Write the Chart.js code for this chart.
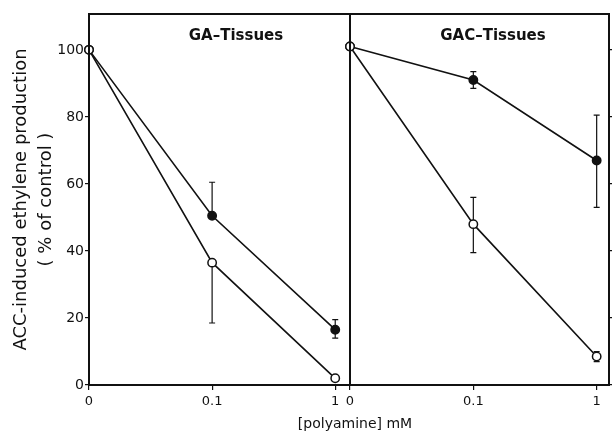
<!DOCTYPE html>
<html>
<head>
<meta charset="utf-8">
<script src="https://cdn.jsdelivr.net/npm/chart.js@4.4.1/dist/chart.umd.min.js"></script>
<style>
  html, body { margin: 0; padding: 0; background: #fff; }
  .stage { position: relative; width: 612px; height: 439px; overflow: hidden; font-family: "DejaVu Sans", "Liberation Sans", Arial, sans-serif; }
  canvas { position: absolute; top: 0; }
  #leftPanel { left: 0; }
  #rightPanel { left: 340px; }
  .x-title { position: absolute; left: 250px; width: 210px; top: 415px; text-align: center; font-size: 14px; color: #111; }
</style>
</head>
<body>
<div class="stage">
  <canvas id="leftPanel" width="351" height="439"></canvas>
  <canvas id="rightPanel" width="272" height="439"></canvas>
  <div class="x-title">[polyamine] mM</div>
</div>
<script>
  // dose categories, equally spaced on the x axis
  const doseLabels = ["0", "0.1", "1"];
  const doseSteps = [0, 1, 2];

  // GA tissues
  const gaOpen = [100, 36.5, 2];
  const gaOpenUp = [0, 0, 0];
  const gaOpenDown = [0, 18, 0];
  const gaFilled = [100, 50.5, 16.5];
  const gaFilledUp = [0, 10, 3];
  const gaFilledDown = [0, 0, 2.5];

  // GAC tissues
  const gacOpen = [101, 48, 8.5];
  const gacOpenUp = [0, 8, 1.5];
  const gacOpenDown = [0, 8.5, 1.5];
  const gacFilled = [101, 91, 67];
  const gacFilledUp = [0, 2.5, 13.5];
  const gacFilledDown = [0, 2.5, 14];

  const yTicks = [0, 20, 40, 60, 80, 100];
  const font = "'DejaVu Sans', 'Liberation Sans', Arial, sans-serif";

  const toPoints = (values) => values.map((v, i) => ({ x: doseSteps[i], y: v }));

  const makeDataset = (values, up, down, filled) => ({
    data: toPoints(values),
    errUp: up,
    errDown: down,
    borderColor: "#111",
    borderWidth: 1.6,
    pointRadius: 4.2,
    pointBorderWidth: 1.5,
    pointBorderColor: "#111",
    pointBackgroundColor: filled ? "#111" : "#fff",
    tension: 0,
    clip: false,
  });

  const errorBars = {
    id: "errorBars",
    beforeDatasetsDraw(chart) {
      const ctx = chart.ctx;
      const yScale = chart.scales.y;
      ctx.save();
      ctx.strokeStyle = "#111";
      ctx.lineWidth = 1.2;
      chart.data.datasets.forEach((ds, di) => {
        const meta = chart.getDatasetMeta(di);
        ds.data.forEach((pt, i) => {
          const x = meta.data[i].x;
          const top = yScale.getPixelForValue(pt.y + (ds.errUp[i] || 0));
          const bottom = yScale.getPixelForValue(pt.y - (ds.errDown[i] || 0));
          if (top === bottom) return;
          ctx.beginPath();
          ctx.moveTo(x, top);
          ctx.lineTo(x, bottom);
          if (ds.errUp[i]) { ctx.moveTo(x - 3, top); ctx.lineTo(x + 3, top); }
          if (ds.errDown[i]) { ctx.moveTo(x - 3, bottom); ctx.lineTo(x + 3, bottom); }
          ctx.stroke();
        });
      });
      ctx.restore();
    },
  };

  const frameAndTitle = {
    id: "frameAndTitle",
    afterDraw(chart, args, opts) {
      const { ctx, chartArea } = chart;
      ctx.save();
      ctx.strokeStyle = "#111";
      ctx.lineWidth = 2;
      ctx.strokeRect(chartArea.left, chartArea.top, chartArea.right - chartArea.left, chartArea.bottom - chartArea.top);
      ctx.fillStyle = "#111";
      ctx.font = "bold 15px " + font;
      ctx.textAlign = "center";
      ctx.textBaseline = "middle";
      ctx.fillText(opts.text, opts.x, chartArea.top + 22);
      ctx.restore();
    },
  };

  const xScale = (max) => ({
    type: "linear",
    min: 0,
    max: max,
    afterBuildTicks(scale) {
      scale.ticks = doseSteps.map((v) => ({ value: v }));
    },
    afterFit(scale) {
      scale.height = 54;
      scale.paddingLeft = 0;
      scale.paddingRight = 0;
    },
    ticks: {
      callback: (value) => doseLabels[value],
      color: "#111",
      font: { family: font, size: 13 },
      padding: 4,
      maxRotation: 0,
    },
    grid: { drawOnChartArea: false, drawTicks: true, tickLength: 5, color: "#111", lineWidth: 1.2 },
    border: { display: true, color: "#111", width: 2 },
  });

  const yScaleBase = {
    type: "linear",
    min: 0,
    max: 110.7,
    afterBuildTicks(scale) {
      scale.ticks = yTicks.map((v) => ({ value: v }));
    },
    grid: { drawOnChartArea: false, drawTicks: true, tickLength: 4, color: "#111", lineWidth: 1.2 },
    border: { display: true, color: "#111", width: 2 },
  };

  const baseOptions = {
    responsive: false,
    animation: false,
    events: [],
    plugins: { legend: { display: false }, tooltip: { enabled: false } },
  };

  new Chart(document.getElementById("leftPanel"), {
    type: "line",
    data: {
      datasets: [
        makeDataset(gaOpen, gaOpenUp, gaOpenDown, false),
        makeDataset(gaFilled, gaFilledUp, gaFilledDown, true),
      ],
    },
    options: {
      ...baseOptions,
      layout: { autoPadding: false, padding: { top: 14, right: 1, bottom: 0, left: 0 } },
      plugins: { ...baseOptions.plugins, frameAndTitle: { text: "GA\u2013Tissues", x: 236 } },
      scales: {
        x: xScale(2.12),
        y: {
          ...yScaleBase,
          position: "left",
          afterFit(scale) {
            scale.width = 89;
          },
          ticks: { color: "#111", font: { family: font, size: 14 }, padding: 1 },
          title: {
            display: true,
            text: ["ACC-induced ethylene production", "( % of control )"],
            color: "#111",
            font: { family: font, size: 18, lineHeight: 1.4 },
            padding: { top: 9, bottom: 0 },
          },
        },
      },
    },
    plugins: [errorBars, frameAndTitle],
  });

  new Chart(document.getElementById("rightPanel"), {
    type: "line",
    data: {
      datasets: [
        makeDataset(gacOpen, gacOpenUp, gacOpenDown, false),
        makeDataset(gacFilled, gacFilledUp, gacFilledDown, true),
      ],
    },
    options: {
      ...baseOptions,
      layout: { autoPadding: false, padding: { top: 14, right: 0, bottom: 0, left: 10 } },
      plugins: { ...baseOptions.plugins, frameAndTitle: { text: "GAC\u2013Tissues", x: 153 } },
      scales: {
        x: xScale(2.1),
        y: {
          ...yScaleBase,
          position: "right",
          afterFit(scale) {
            scale.width = 3;
          },
          ticks: { display: false },
        },
      },
    },
    plugins: [errorBars, frameAndTitle],
  });
</script>
</body>
</html>
